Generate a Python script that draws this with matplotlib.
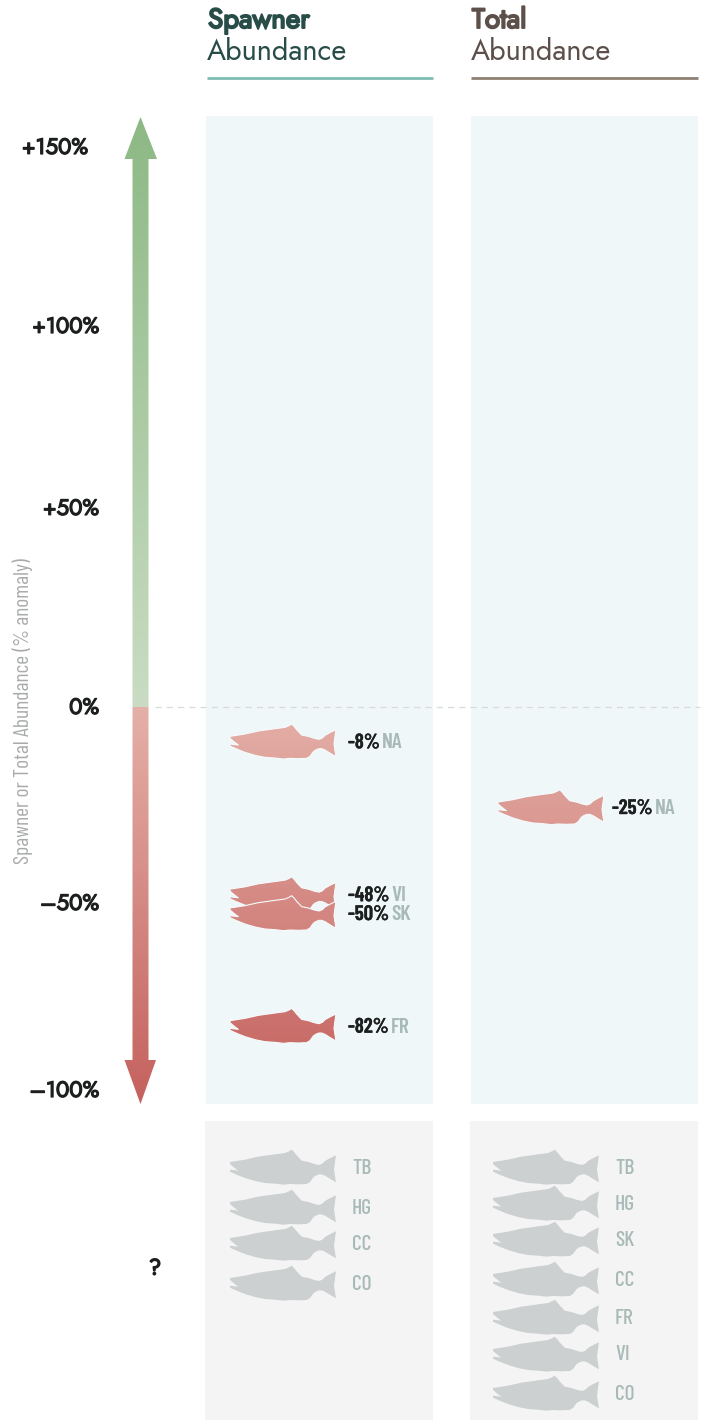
import numpy as np
import matplotlib
matplotlib.use('Agg')
import matplotlib.pyplot as plt
import matplotlib.patheffects as pe
from matplotlib.colors import LinearSegmentedColormap
from matplotlib.patches import Polygon, Rectangle

# axis
tick_values = [150, 100, 50, 0, -50, -100]
tick_labels = ['+150%', '+100%', '+50%', '0%', '\u201350%', '\u2013100%']
tick_pixels = [147, 326, 508, 707, 903, 1090]

# known regions, fish sit on the tick scale
spawner_codes = ['NA', 'VI', 'SK', 'FR']
spawner_values = [-8, -48, -50, -82]
total_codes = ['NA']
total_values = [-25]

# regions without data
spawner_unknown = ['TB', 'HG', 'CC', 'CO']
total_unknown = ['TB', 'HG', 'SK', 'CC', 'FR', 'VI', 'CO']

spawner_nudge = [3, -1, 10, 3]
total_nudge = [2]
spawner_unknown_y = [1167, 1207, 1243, 1283]
total_unknown_y = [1167, 1203, 1239, 1279, 1317, 1354, 1393]

# salmon outline, 3x pixels
fish_x = np.array([15, 60, 100, 150, 180, 192, 200, 208, 215, 230, 250, 268, 282, 292, 300, 316, 333,
                   330, 327, 330, 333, 316, 300, 290, 282, 272, 265, 255, 245, 220, 195, 175, 150, 120,
                   90, 60, 35, 15, 15, 40, 28, 15, 15])
fish_y = np.array([62, 55, 46, 39, 35, 30, 25, 33, 42, 58, 62, 68, 71, 67, 59, 50, 42,
                   62, 85, 105, 123, 113, 103, 99, 99, 103, 108, 122, 128, 129, 128, 130, 127, 125,
                   119, 110, 100, 91, 85, 88, 79, 68, 62])
fish_x = (fish_x - 15) / 3.0 + 230
fish_y = (fish_y - 77) / 3.0

COND = ['Barlow Condensed', 'Lato']
HEAD = ['Jost', 'Lato']

fig = plt.figure(figsize=(7.04, 14.2), dpi=100)
ax = fig.add_axes([0, 0, 1, 1])
ax.set_xlim(0, 704)
ax.set_ylim(1420, 0)
ax.axis('off')


def val2y(v):
    return np.interp(-v, -np.array(tick_values), tick_pixels)


def heavy(width, color):
    # Jost only has the regular weight here
    return [pe.withStroke(linewidth=width, foreground=color)]


grad = LinearSegmentedColormap.from_list('updown', [(0, '#8DB985'), (0.597, '#C9DCC3'), (0.598, '#E4B0A8'), (1, '#C5615E')])
grad_img = np.linspace(0, 1, 1000).reshape(-1, 1)
layer = [3.0]


def gradient_fill(poly):
    layer[0] += 0.01
    p = Polygon(poly, closed=True, fc='none', ec='none', transform=ax.transData)
    ax.add_patch(p)
    im = ax.imshow(grad_img, cmap=grad, vmin=0, vmax=1, extent=(0, 704, 1104, 117), aspect='auto', zorder=layer[0],
                   interpolation='nearest')
    im.set_clip_path(p)
    return im


def draw_fish(dx, y, color=None):
    pts = np.column_stack([fish_x + dx, fish_y + y])
    if color is None:
        gradient_fill(pts)
        layer[0] += 0.01
        ax.add_patch(Polygon(pts, closed=True, fc='none', ec='#F6FBFC', lw=0.8, zorder=layer[0], joinstyle='round'))
    else:
        ax.add_patch(Polygon(pts, closed=True, fc=color, ec='none', zorder=3))


def value_label(x, y, val, code):
    t = ax.text(x, y + 1.5, '-%d%%' % abs(val), fontsize=15, fontweight=600, color='#1d1f1f',
                family=COND, va='center', ha='left', zorder=5, path_effects=heavy(0.3, '#1d1f1f'))
    ax.annotate(code, xy=(1, 0.5), xycoords=t, xytext=(1.5, 0), textcoords='offset points', fontsize=15.5,
                color='#A8BAB7', family=COND, va='center', ha='left', fontweight=600, zorder=5)


# panels
for x0, x1 in [(206, 433), (471, 698)]:
    ax.add_patch(Rectangle((x0, 116), x1 - x0, 988, fc='#EFF7F9', ec='none', zorder=1))
    ax.add_patch(Rectangle((x0 - 1, 1121), x1 - x0 + 1, 299, fc='#F4F4F4', ec='none', zorder=1))

# headers
ax.text(208, 20, 'Spawner', fontsize=20, family=HEAD, color='#284C47', va='center', path_effects=heavy(1.4, '#284C47'))
ax.text(207, 52, 'Abundance', fontsize=20.8, family=HEAD, color='#284C47', va='center')
ax.text(472, 20, 'Total', fontsize=20, family=HEAD, color='#5D504A', va='center', path_effects=heavy(1.4, '#5D504A'))
ax.text(471, 52, 'Abundance', fontsize=20.8, family=HEAD, color='#5D504A', va='center')
ax.plot([207, 433], [78, 78], color='#7FBDB4', lw=2, solid_capstyle='butt')
ax.plot([471, 698], [78, 78], color='#8E8073', lw=2, solid_capstyle='butt')

# zero line
ax.plot([155, 700], [val2y(0), val2y(0)], color='#D6DBDC', lw=0.9, ls=(0, (5, 4)), zorder=2)

# arrow
arrow = [(140.5, 117), (157, 159), (148.5, 159), (148.5, 1060), (156, 1060), (140.5, 1104),
         (124.5, 1060), (132.5, 1060), (132.5, 159), (124.5, 159)]
gradient_fill(arrow)

# ticks
for v, lab in zip(tick_values, tick_labels):
    ax.text(88 if v == 150 else 99, val2y(v) + 0.5, lab, fontsize=16, family=HEAD, color='#1d1f1f',
            ha='right', va='center', path_effects=heavy(0.9, '#1d1f1f'))
ax.text(155, 1268, '?', fontsize=16, family=HEAD, color='#1d1f1f', ha='center', va='center',
        path_effects=heavy(1.0, '#1d1f1f'))
ax.text(23, 711, 'Spawner or Total Abundance (% anomaly)', rotation=90, fontsize=15.5, family=COND,
        color='#A9ABAB', ha='center', va='center')

# fish with data
for code, v, n in zip(spawner_codes, spawner_values, spawner_nudge):
    y = val2y(v) + n
    draw_fish(0, y)
    value_label(348, y, v, code)
for code, v, n in zip(total_codes, total_values, total_nudge):
    y = val2y(v) + n
    draw_fish(268, y)
    value_label(612, y, v, code)

# no data
for code, y in zip(spawner_unknown, spawner_unknown_y):
    draw_fish(0, y, color='#CCD0D1')
    ax.text(352, y + 1, code, fontsize=15.5, fontweight=500, family=COND, color='#A8BAB7', va='center', zorder=5)
for code, y in zip(total_unknown, total_unknown_y):
    draw_fish(263, y, color='#CCD0D1')
    ax.text(615, y + 1, code, fontsize=15.5, fontweight=500, family=COND, color='#A8BAB7', va='center', zorder=5)

ax.set_xlim(0, 704)
ax.set_ylim(1420, 0)
fig.savefig('out.png', dpi=100)
